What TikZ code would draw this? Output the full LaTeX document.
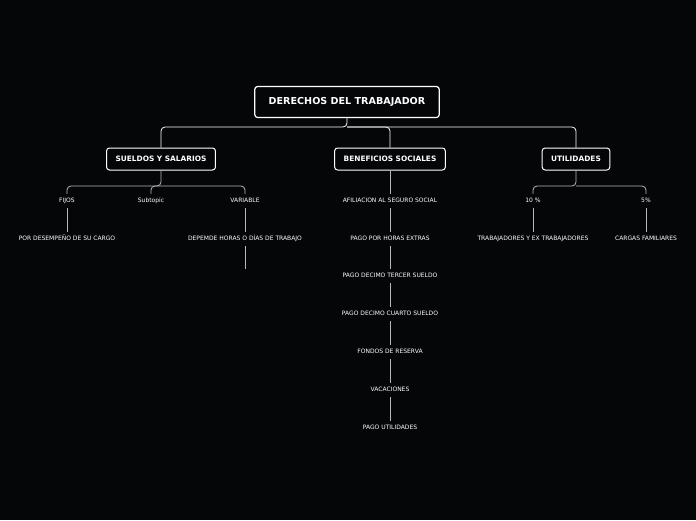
\documentclass[tikz,border=0pt]{standalone}
\usepackage{fontspec}
\setmainfont{DejaVu Sans}
\definecolor{bgdark}{HTML}{050608}
\definecolor{linegray}{HTML}{B8B8B8}
\tikzset{
  mainbox/.style={draw=white, line width=1.2pt, rounded corners=3pt, fill=bgdark, text=white, font=\bfseries\fontsize{9.6}{11}\selectfont, minimum height=31pt, inner xsep=14pt},
  topicbox/.style={draw=white, line width=1pt, rounded corners=3pt, fill=bgdark, text=white, font=\bfseries\fontsize{7.4}{8}\selectfont, minimum height=22pt, inner xsep=9pt},
  leaf/.style={text=white, font=\fontsize{6}{7}\selectfont, text height=4.5pt, text depth=1.5pt, inner xsep=1pt, inner ysep=4pt},
  link/.style={draw=linegray, line width=0.8pt, rounded corners=4pt}
}
\begin{document}
\begin{tikzpicture}[x=1pt,y=-1pt]
  \fill[bgdark] (0,0) rectangle (696,520);
  \useasboundingbox (0,0) rectangle (696,520);
  % root and topics
  \node[mainbox] (root) at (347,102) {DERECHOS DEL TRABAJADOR};
  \node[topicbox] (sueldos) at (161,159) {SUELDOS Y SALARIOS};
  \node[topicbox] (benef) at (390,159) {BENEFICIOS SOCIALES};
  \node[topicbox] (util) at (576,159) {UTILIDADES};
  \draw[link,draw=white] (root.south) -- (347,127) -| (sueldos.north);
  \draw[link,draw=white] (347,127) -| (util.north);
  \draw[link,draw=white] (347,127) -| (benef.north);
  % sueldos
  \node[leaf] (fijos) at (67,201) {FIJOS};
  \node[leaf] (subtopic) at (151,201) {Subtopic};
  \node[leaf] (variable) at (245,201) {VARIABLE};
  \node[leaf] (desemp) at (67,239) {POR DESEMPEÑO DE SU CARGO};
  \node[leaf] (depende) at (245,239) {DEPEMDE HORAS O DÍAS DE TRABAJO};
  \coordinate (vend) at (245,269);
  \draw[link] (sueldos.south) -- (161,186) -| (fijos.north);
  \draw[link] (161,186) -| (variable.north);
  \draw[link] (161,186) -| (subtopic.north);
  \draw[link] (fijos.south) -- (desemp.north);
  \draw[link] (variable.south) -- (depende.north);
  \draw[link] (depende.south) -- (vend);
  % beneficios
  \node[leaf] (b1) at (390,201) {AFILIACION AL SEGURO SOCIAL};
  \node[leaf] (b2) at (390,239) {PAGO POR HORAS EXTRAS};
  \node[leaf] (b3) at (390,276) {PAGO DECIMO TERCER SUELDO};
  \node[leaf] (b4) at (390,314) {PAGO DECIMO CUARTO SUELDO};
  \node[leaf] (b5) at (390,352) {FONDOS DE RESERVA};
  \node[leaf] (b6) at (390,390) {VACACIONES};
  \node[leaf] (b7) at (390,428) {PAGO UTILIDADES};
  \draw[link] (benef.south) -- (b1.north);
  \foreach \a/\b in {b1/b2,b2/b3,b3/b4,b4/b5,b5/b6,b6/b7}
    \draw[link] (\a.south) -- (\b.north);
  % utilidades
  \node[leaf] (diez) at (533,201) {10 \%};
  \node[leaf] (cinco) at (646,201) {5\%};
  \node[leaf] (trab) at (533,239) {TRABAJADORES Y EX TRABAJADORES};
  \node[leaf] (cargas) at (646,239) {CARGAS FAMILIARES};
  \draw[link] (util.south) -- (576,186) -| (diez.north);
  \draw[link] (576,186) -| (cinco.north);
  \draw[link] (diez.south) -- (trab.north);
  \draw[link] (cinco.south) -- (cargas.north);
\end{tikzpicture}
\end{document}
